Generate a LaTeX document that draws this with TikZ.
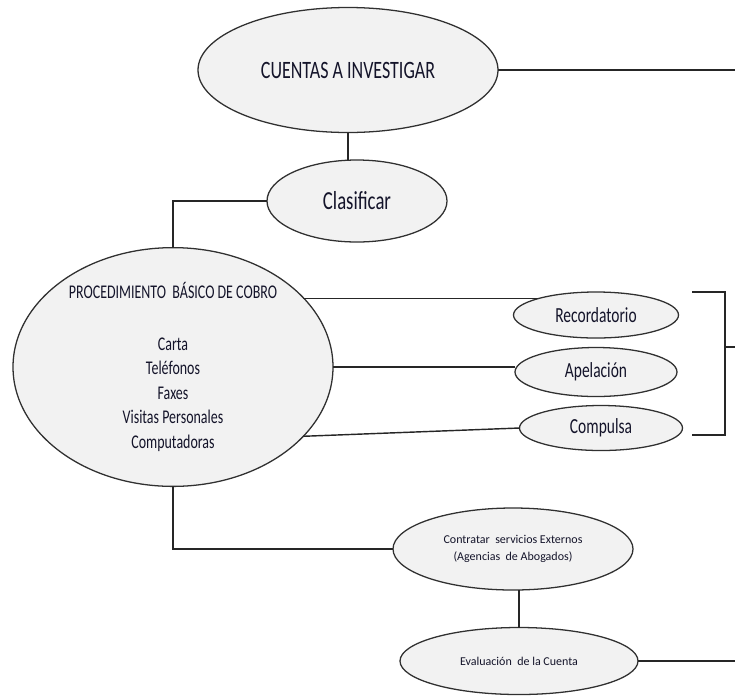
\documentclass[tikz,border=0pt]{standalone}
\usepackage{fontspec}
\setmainfont{Carlito}[FakeStretch=0.72]
\newfontfamily\carlitollana{Carlito}
\usepackage{xcolor}
\usepackage{tikz}
\usetikzlibrary{shapes,positioning}

\definecolor{burbujagris}{HTML}{F2F2F2}
\definecolor{bordegris}{HTML}{303030}
\definecolor{textoazul}{HTML}{14142A}

\begin{document}
\begin{tikzpicture}[
        x=1pt, y=-1pt,
        burbuja/.style={
            ellipse,
            draw=bordegris,
            line width=0.45mm,
            fill=burbujagris,
            inner sep=0pt,
            outer sep=0pt,
            text=textoazul,
            align=center
        },
        enlace/.style={
            line width=0.5mm,
            color=black!85
        }
    ]
                \useasboundingbox (0,0) rectangle (735,697);

                % nodos
                \node[burbuja, minimum width=300pt, minimum height=125pt,
                      font=\fontsize{25}{28}\selectfont] (cuentas) at (348,70) {CUENTAS A INVESTIGAR};
                \node[burbuja, minimum width=180pt, minimum height=82pt,
                      font=\fontsize{26}{28}\selectfont] (clasificar) at (357,201) {Clasificar};
                \node[burbuja, minimum width=320pt, minimum height=233pt,
                      font=\fontsize{19.4}{24.5}\selectfont] (cobro) at (173,367)
                      {PROCEDIMIENTO~ B\'ASICO DE COBRO\\[27pt]
                       Carta\\Tel\'efonos\\Faxes\\Visitas Personales\\Computadoras};
                \node[burbuja, minimum width=165pt, minimum height=46pt,
                      font=\fontsize{21.5}{24}\selectfont] (recordatorio) at (596,315) {Recordatorio};
                \node[burbuja, minimum width=162pt, minimum height=49pt,
                      font=\fontsize{21.5}{24}\selectfont] (apelacion) at (596,372) {Apelaci\'on};
                \node[burbuja, minimum width=163pt, minimum height=45pt,
                      font=\fontsize{21.5}{24}\selectfont] (compulsa) at (601,428) {Compulsa};
                \node[burbuja, minimum width=240pt, minimum height=82pt,
                      font=\carlitollana\fontsize{12}{17}\selectfont] (contratar) at (513,549)
                      {Contratar~ servicios Externos\\(Agencias~ de Abogados)};
                \node[burbuja, minimum width=238pt, minimum height=67pt,
                      font=\carlitollana\fontsize{12}{15}\selectfont] (evaluacion) at (519,661) {Evaluaci\'on~ de la Cuenta};

                % extremos libres
                \coordinate (salidacuentas) at (735,70);
                \coordinate (salidaevaluacion) at (735,661);
                \coordinate (llavearriba) at (692,292);
                \coordinate (llaveabajo) at (692,435);
                \coordinate (llavepunta) at (735,347);

                % conectores
                \draw[enlace] (cuentas.east) -- (salidacuentas);
                \draw[enlace] (cuentas.south) -- (cuentas.south |- clasificar.north);
                \draw[enlace] (clasificar.west) -| (cobro.north);
                \draw[enlace] (recordatorio.north west -| cobro.28) -- (recordatorio.north west);
                \draw[enlace] (cobro.east) -- (cobro.east -| apelacion.west);
                \draw[enlace] (cobro.-28) -- (compulsa.west);
                \draw[enlace] (cobro.south) |- (contratar.west);
                \draw[enlace] (evaluacion.north |- contratar.south) -- (evaluacion.north);
                \draw[enlace] (evaluacion.east) -- (salidaevaluacion);

                % llave
                \draw[enlace] (llavearriba) -- ++(33,0) |- (llaveabajo);
                \draw[enlace] (llavepunta) -- (llavepunta -| 725,0);

             \end{tikzpicture}
\end{document}
